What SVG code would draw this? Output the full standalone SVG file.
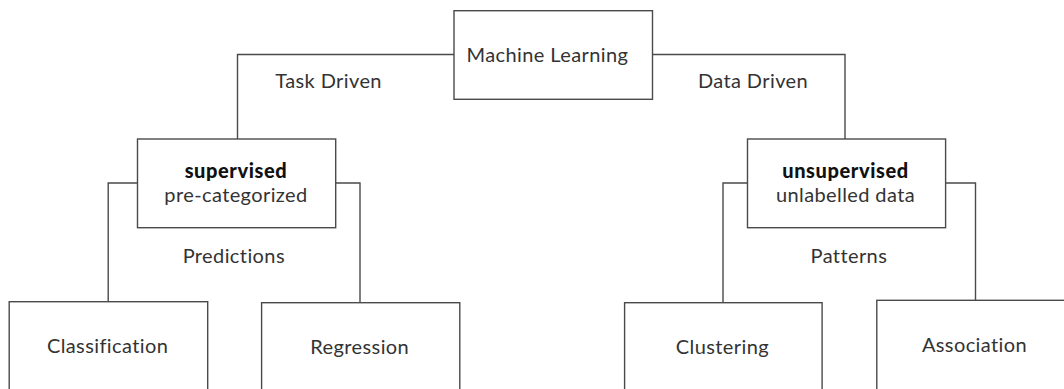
<svg xmlns="http://www.w3.org/2000/svg" width="1064" height="389" viewBox="0 0 1064 389">
  <style>
    .box { fill: #ffffff; stroke: #4a4a4a; stroke-width: 1.4; }
    .wire { fill: none; stroke: #4a4a4a; stroke-width: 1.4; }
    text { font-family: Lato, "Open Sans", sans-serif; font-size: 20px; letter-spacing: 0.4px; fill: #333333; text-anchor: middle; font-variant-ligatures: none; }
    .bold { font-weight: 900; letter-spacing: 0.6px; fill: #111111; }
  </style>
  <rect width="1064" height="389" fill="#ffffff"/>

  <!-- tree connectors with their edge labels -->
  <g id="connectors">
    <path class="wire" d="M454 54.5 H237.5 V139"/>
    <path class="wire" d="M652.5 54.5 H845 V139"/>
    <path class="wire" d="M137.5 183 H108.2 V301.7"/>
    <path class="wire" d="M335.7 183 H360 V302.7"/>
    <path class="wire" d="M747.5 183 H723 V302.7"/>
    <path class="wire" d="M945.6 183 H975.5 V300.3"/>
    <text x="328.6" y="88.3">Task Driven</text>
    <text x="753" y="88.3">Data Driven</text>
    <text x="233.8" y="263.3">Predictions</text>
    <text x="848.9" y="263.3">Patterns</text>
  </g>

  <g id="machine-learning">
    <rect class="box" x="454" y="10.7" width="198.5" height="88.6"/>
    <text x="547.5" y="62.3">Machine Learning</text>
  </g>

  <g id="supervised">
    <rect class="box" x="137.5" y="139" width="198.2" height="88.7"/>
    <text class="bold" x="236" y="178.3">supervised</text>
    <text x="236" y="201.7">pre-categorized</text>
  </g>

  <g id="unsupervised">
    <rect class="box" x="747.5" y="139" width="198.1" height="88.7"/>
    <text class="bold" x="845.5" y="178.3">unsupervised</text>
    <text x="845.5" y="201.7">unlabelled data</text>
  </g>

  <g id="classification">
    <rect class="box" x="9.2" y="301.7" width="198.5" height="100"/>
    <text x="107.6" y="353.3">Classification</text>
  </g>

  <g id="regression">
    <rect class="box" x="261.6" y="302.7" width="198.2" height="100"/>
    <text x="359.7" y="354">Regression</text>
  </g>

  <g id="clustering">
    <rect class="box" x="624.6" y="302.7" width="197.5" height="100"/>
    <text x="722.4" y="354">Clustering</text>
  </g>

  <g id="association">
    <rect class="box" x="876.8" y="300.3" width="198" height="100"/>
    <text x="974.5" y="351.7">Association</text>
  </g>
</svg>
